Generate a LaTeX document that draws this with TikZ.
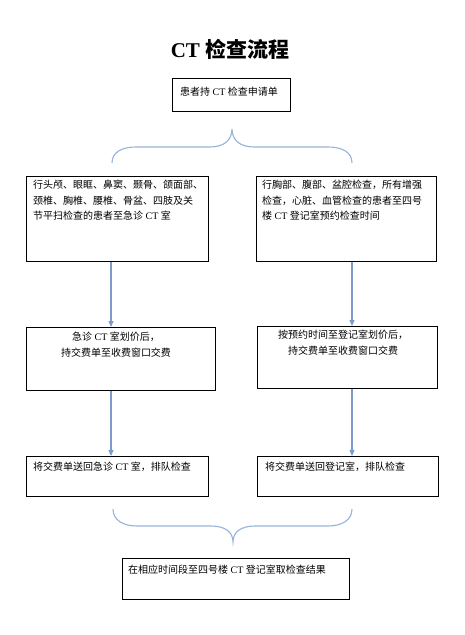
\documentclass[tikz,border=0pt]{standalone}
\usepackage{fontspec}
\setmainfont{Liberation Serif}
\newfontfamily\cjk{Noto Sans CJK SC}
\usetikzlibrary{arrows.meta}
\newcommand{\C}[1]{{\cjk #1}}
\definecolor{arrblue}{HTML}{7B9CC9}
\definecolor{braceblue}{HTML}{95B3D7}
\tikzset{
  box/.style={draw=black, line width=1.2pt, fill=white, inner sep=0pt, anchor=north west},
  txt/.style={inner sep=0pt, font=\fontsize{10}{15.5}\selectfont},
  arr/.style={draw=arrblue, line width=1.1pt, -{Triangle[width=5pt,length=6pt]}},
  brace/.style={draw=braceblue, line width=1.1pt},
}
\begin{document}
\begin{tikzpicture}[x=1pt,y=-1pt]
\useasboundingbox (0,0) rectangle (464,635);
% title
\node[inner sep=0pt, font=\fontsize{21}{24}\selectfont\bfseries] (title) at (230,49) {CT \C{检查流程}};
% boxes
\node[box, minimum width=118pt, minimum height=33pt] (b1) at (172,78) {};
\node[txt, anchor=north west] (t1) at (180,87) {\C{患者持} CT \C{检查申请单}};

\node[box, minimum width=182pt, minimum height=85pt] (l2) at (26,176) {};
\node[txt, anchor=north west, align=left] (tl2) at (33,180) {\C{行头颅、眼眶、鼻窦、颞骨、颌面部、}\\\C{颈椎、胸椎、腰椎、骨盆、四肢及关}\\\C{节平扫检查的患者至急诊} CT \C{室}};

\node[box, minimum width=180pt, minimum height=85pt] (r2) at (256,176) {};
\node[txt, anchor=north west, align=left] (tr2) at (262,180) {\C{行胸部、腹部、盆腔检查，所有增强}\\\C{检查，心脏、血管检查的患者至四号}\\\C{楼} CT \C{登记室预约检查时间}};

\node[box, minimum width=189pt, minimum height=63pt] (l3) at (26,327) {};
\node[txt, anchor=north, align=center] (tl3) at (116,332) {\C{急诊} CT \C{室划价后，}\\\C{持交费单至收费窗口交费}};

\node[box, minimum width=180pt, minimum height=62pt] (r3) at (257,326) {};
\node[txt, anchor=north, align=center] (tr3) at (343,330) {\C{按预约时间至登记室划价后，}\\\C{持交费单至收费窗口交费}};

\node[box, minimum width=182pt, minimum height=40pt] (l4) at (26,456) {};
\node[txt, anchor=north west] (tl4) at (33,462) {\C{将交费单送回急诊} CT \C{室，排队检查}};

\node[box, minimum width=181pt, minimum height=40pt] (r4) at (257,456) {};
\node[txt, anchor=north west] (tr4) at (265,462) {\C{将交费单送回登记室，排队检查}};

\node[box, minimum width=227pt, minimum height=41pt] (b5) at (122,558) {};
\node[txt, anchor=north west] (t5) at (128,565) {\C{在相应时间段至四号楼} CT \C{登记室取检查结果}};

% arrows
\coordinate (axl) at (111,0);
\coordinate (axr) at (352,0);
\draw[arr] (l2.south -| axl) -- (l3.north -| axl);
\draw[arr] (r2.south -| axr) -- (r3.north -| axr);
\draw[arr] (l3.south -| axl) -- (l4.north -| axl);
\draw[arr] (r3.south -| axr) -- (r4.north -| axr);

% top brace
\draw[brace] (112,163) .. controls (112,152) and (122,147) .. (136,147)
  -- (210,147) .. controls (224,147) and (232,140) .. (232,129)
  .. controls (232,140) and (240,147) .. (254,147)
  -- (328,147) .. controls (342,147) and (352,152) .. (352,163);
% bottom brace
\draw[brace] (113,509) .. controls (113,520) and (123,526) .. (137,526)
  -- (211,526) .. controls (225,526) and (233,532) .. (233,542)
  .. controls (233,532) and (241,526) .. (255,526)
  -- (328,526) .. controls (342,526) and (352,520) .. (352,509);
\end{tikzpicture}
\end{document}
